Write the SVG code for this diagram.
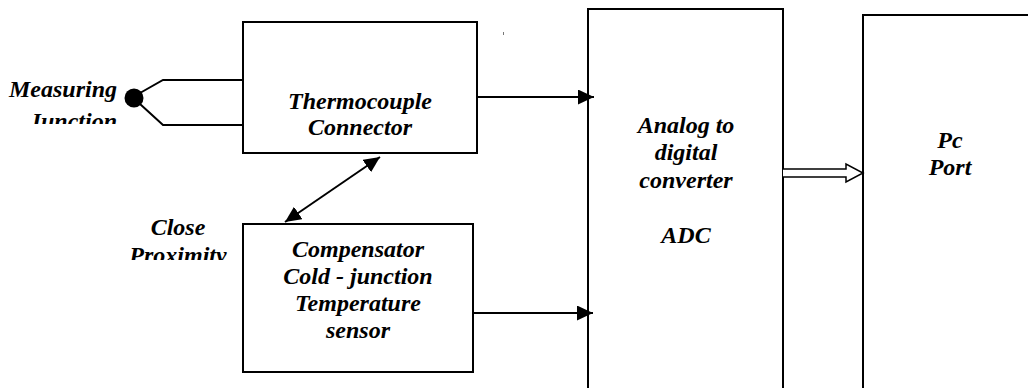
<svg xmlns="http://www.w3.org/2000/svg" width="1028" height="388" viewBox="0 0 1028 388">
<style>
.box{fill:#fff;stroke:#000;stroke-width:2}
.t{font-family:"Liberation Serif","Times New Roman",serif;font-weight:bold;font-style:italic;font-size:24px;fill:#000}
.c{text-anchor:middle}
.r{text-anchor:end}
.ln{fill:none;stroke:#000;stroke-width:2}
</style>
<defs>
<marker id="ah" viewBox="0 0 16 15" refX="16" refY="7.5" markerWidth="16" markerHeight="15" markerUnits="userSpaceOnUse" orient="auto-start-reverse">
<path d="M0,0 L16,7.5 L0,15 Z" fill="#000"/>
</marker>
<clipPath id="clipJ"><rect x="0" y="0" width="240" height="124"/></clipPath>
<clipPath id="clipP"><rect x="100" y="200" width="140" height="60"/></clipPath>
</defs>
<rect width="1028" height="388" fill="#fff"/>
<g id="thermocouple">
<rect class="box" x="243" y="22" width="234" height="131"/>
<text class="t c" x="360" y="109">Thermocouple</text>
<text class="t c" x="360" y="135">Connector</text>
</g>
<g id="compensator">
<rect class="box" x="243" y="224" width="230" height="148"/>
<text class="t c" x="358" y="257">Compensator</text>
<text class="t c" x="358" y="284">Cold - junction</text>
<text class="t c" x="358" y="311">Temperature</text>
<text class="t c" x="358" y="338">sensor</text>
</g>
<g id="adc">
<rect class="box" x="588" y="9" width="195" height="390"/>
<text class="t c" x="686" y="133">Analog to</text>
<text class="t c" x="686" y="160">digital</text>
<text class="t c" x="686" y="188">converter</text>
<text class="t c" x="686" y="243">ADC</text>
</g>
<g id="pc">
<rect class="box" x="863" y="15" width="180" height="390"/>
<text class="t c" x="950" y="148">Pc</text>
<text class="t c" x="950" y="175">Port</text>
</g>
<g id="measuring">
<circle cx="134" cy="98" r="9.5" fill="#000"/>
<text class="t r" x="117" y="97">Measuring</text>
<text class="t r" x="117" y="129" clip-path="url(#clipJ)">Junction</text>
</g>
<g id="proximity">
<text class="t c" x="178" y="235">Close</text>
<text class="t c" x="178" y="263" clip-path="url(#clipP)">Proximity</text>
</g>
<g id="connectors">
<polyline class="ln" points="140,93 163,80 243,80"/>
<polyline class="ln" points="140,104 163,125 243,125"/>
<line class="ln" x1="477" y1="97" x2="594" y2="97" marker-end="url(#ah)"/>
<line class="ln" x1="473" y1="313" x2="593" y2="313" marker-end="url(#ah)"/>
<line class="ln" x1="380" y1="157" x2="285" y2="222" marker-start="url(#ah)" marker-end="url(#ah)"/>
<path d="M783,169 L846,169 L846,164 L863,173 L846,182 L846,177 L783,177" fill="#fff" stroke="#000" stroke-width="1.5"/>
<rect x="503" y="32" width="1" height="3" fill="#777"/>
</g>
</svg>
